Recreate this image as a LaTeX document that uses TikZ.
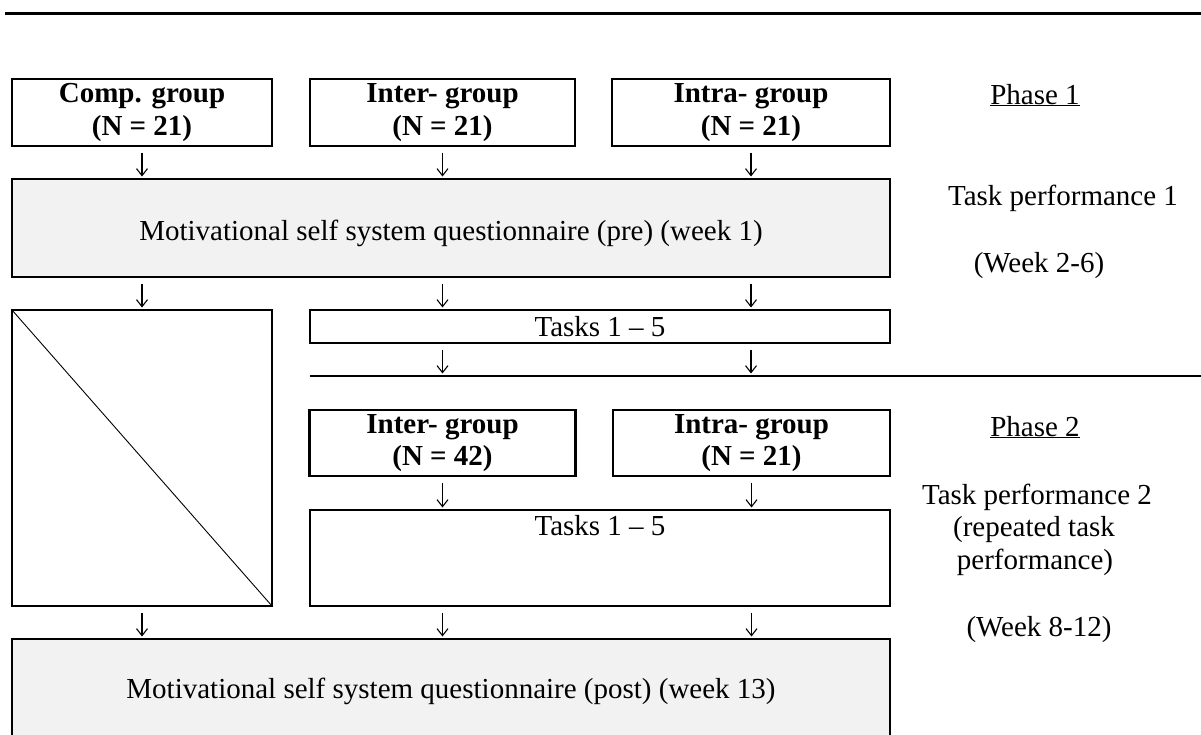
\documentclass[tikz,border=0pt]{standalone}
\usepackage{fontspec}
\setmainfont{Liberation Serif}
\usetikzlibrary{arrows.meta,calc}
\newcommand{\fsz}{\fontsize{29}{32.7}\selectfont}
\definecolor{boxgray}{HTML}{F2F2F2}
\begin{document}
\begin{tikzpicture}[x=1pt,y=-1pt,
  every node/.style={font=\fsz, inner sep=0pt, outer sep=0pt},
  grpbox/.style={draw, line width=2.5pt, minimum height=67pt, align=center, font=\fsz\bfseries},
  graybox/.style={draw, line width=2.5pt, fill=boxgray, minimum width=878pt},
  plainbox/.style={draw, line width=2.5pt},
  sidelbl/.style={anchor=base},
  dnarr/.style={-{Straight Barb[length=7pt,width=11pt]}, line width=1.1pt, shorten <=6.5pt, shorten >=2.5pt},
  rule/.style={line width=2.5pt}
]
\path[use as bounding box] (0,0) rectangle (1201,734);
\clip (0,0) rectangle (1201,734);

% top rule
\coordinate (tL) at (5,13.5);
\coordinate (tR) at (1201,13.5);
\draw[rule] (tL) -- (tR);

% Phase 1 groups
\node[grpbox, minimum width=260pt] (comp1) at (142,112.5) {Comp. group\\(N = 21)};
\node[grpbox, minimum width=265pt] (inter1) at (442.5,112.5) {Inter- group\\(N = 21)};
\node[grpbox, minimum width=278pt] (intra1) at (751,112.5) {Intra- group\\(N = 21)};

% pre questionnaire
\node[graybox, minimum height=98pt, text height=24pt, text depth=0pt] (pre) at (451,228)
  {Motivational self system questionnaire (pre) (week 1)};

% comparison (empty) box and tasks 1
\node[plainbox, minimum width=260pt, minimum height=296pt] (diag) at (142,458) {};
\draw[line width=0.9pt] (diag.north west) -- (diag.south east);
\node[plainbox, minimum width=580pt, minimum height=33pt] (tasks1) at (600,326.5) {Tasks 1 – 5};

% middle rule
\coordinate (mL) at (310,376);
\coordinate (mR) at (1201,376);
\draw[line width=2pt] (mL) -- (mR);

% Phase 2 groups
\node[grpbox, minimum width=266pt, minimum height=66pt] (inter2) at (442.5,443) {Inter- group\\(N = 42)};
\node[grpbox, minimum width=277pt, minimum height=66pt] (intra2) at (751.5,443) {Intra- group\\(N = 21)};

% tasks 2
\node[plainbox, minimum width=580pt, minimum height=96pt] (tasks2) at (600,558) {};
\node[anchor=base] (t2text) at ($(tasks2.north)+(0,25)$) {Tasks 1 – 5};

% post questionnaire
\node[graybox, minimum height=120pt, text height=10pt, text depth=12pt] (post) at (451,699)
  {Motivational self system questionnaire (post) (week 13)};

% arrows
\draw[dnarr] (comp1.south) -- (pre.north -| comp1.south);
\draw[dnarr] (inter1.south) -- (pre.north -| inter1.south);
\draw[dnarr] (intra1.south) -- (pre.north -| intra1.south);

\draw[dnarr] (pre.south -| diag.north) -- (diag.north);
\draw[dnarr] (pre.south -| inter1.south) -- (tasks1.north -| inter1.south);
\draw[dnarr] (pre.south -| intra1.south) -- (tasks1.north -| intra1.south);

\draw[dnarr] (tasks1.south -| inter1.south) -- (mL -| inter1.south);
\draw[dnarr] (tasks1.south -| intra1.south) -- (mL -| intra1.south);

\draw[dnarr] (inter2.south) -- (tasks2.north -| inter2.south);
\draw[dnarr] (intra2.south) -- (tasks2.north -| intra2.south);

\draw[dnarr] (diag.south) -- (post.north -| diag.south);
\draw[dnarr] (tasks2.south -| inter2.south) -- (post.north -| inter2.south);
\draw[dnarr] (tasks2.south -| intra2.south) -- (post.north -| intra2.south);

% side labels
\node[sidelbl] (ph1) at (1035,104) {\underline{Phase 1}};
\node[sidelbl] (tp1) at (1063,205) {Task performance 1};
\node[sidelbl] (wk1) at (1039,272) {(Week 2-6)};
\node[sidelbl] (ph2) at (1035,436) {\underline{Phase 2}};
\node[sidelbl] (tp2a) at (1037,504) {Task performance 2};
\node[sidelbl] (tp2b) at (1034,536.5) {(repeated task};
\node[sidelbl] (tp2c) at (1035,569) {performance)};
\node[sidelbl] (wk2) at (1039,636) {(Week 8-12)};
\end{tikzpicture}
\end{document}
